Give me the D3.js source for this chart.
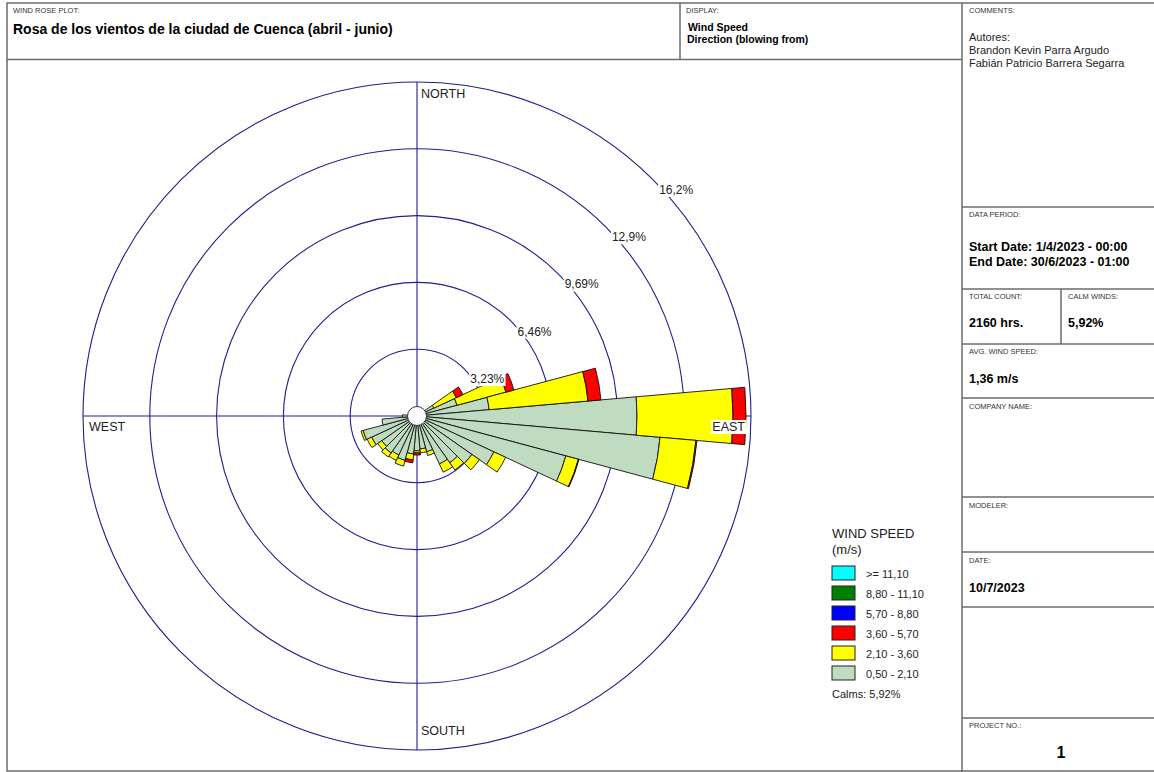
<!DOCTYPE html>
<html>
<head>
<meta charset="utf-8">
<script src="https://cdn.jsdelivr.net/npm/d3@7"></script>
<style>
  html, body { margin: 0; padding: 0; background: #fff; }
  svg { display: block; font-family: "Liberation Sans", Arial, sans-serif; }
</style>
</head>
<body>
<svg id="chart" width="1154" height="772"></svg>
<script>
// Direction sectors (degrees, blowing from), 10° wide
const bearings = d3.range(0, 360, 10);

// Frequency (%) per sector for each wind speed class
const spd050_210 = [0, 0, 0, 0, 0, 0.3, 0.9, 2.0, 3.5, 10.64, 11.8, 7.45,
                    4.1, 3.24, 2.76, 2.56, 1.79, 1.6, 1.69, 1.84, 2.22, 2.08, 2.18, 2.08,
                    2.42, 2.7, 1.7, 0.7, 0, 0, 0, 0, 0, 0, 0, 0];
const spd210_360 = [0, 0, 0, 0, 0, 0, 1.2, 2.45, 4.8, 4.64, 1.74, 0.63,
                    0.63, 0.44, 0.43, 0.44, 0.19, 0.19, 0.1, 0.29, 0.29, 0.29, 0.24, 0.24,
                    0.24, 0.1, 0, 0, 0, 0, 0, 0, 0, 0, 0, 0];
const spd360_570 = [0, 0, 0, 0, 0, 0, 0.35, 0.4, 0.63, 0.63, 0.05, 0.03,
                    0, 0, 0, 0, 0, 0, 0.1, 0.14, 0, 0, 0, 0,
                    0, 0, 0, 0, 0, 0, 0, 0, 0, 0, 0, 0];
const spd570_880 = new Array(36).fill(0);
const spd880_1110 = new Array(36).fill(0);
const spd1110 = new Array(36).fill(0);

// Speed classes, low to high
const classKeys = ["c1", "c2", "c3", "c4", "c5", "c6"];
const classLabels = ["0,50 - 2,10", "2,10 - 3,60", "3,60 - 5,70", "5,70 - 8,80", "8,80 - 11,10", ">= 11,10"];
const classColors = ["#c0dcc0", "#ffff00", "#ff0000", "#0000ff", "#008000", "#00ffff"];

// Rings
const ringValues = [3.23, 6.46, 9.69, 12.92, 16.15];
const ringLabels = ["3,23%", "6,46%", "9,69%", "12,9%", "16,2%"];

const calmText = "5,92%";

const svg = d3.select("#chart");
const cx = 417, cy = 416, outerR = 334;

// ---------- frame and side panels ----------
const frame = svg.append("g").attr("fill", "none").attr("stroke", "#6b6b6b").attr("stroke-width", 1.5);
frame.append("rect").attr("x", 7).attr("y", 3).attr("width", 1150).attr("height", 768);
frame.append("line").attr("x1", 7).attr("x2", 962).attr("y1", 59.5).attr("y2", 59.5);
frame.append("line").attr("x1", 680).attr("x2", 680).attr("y1", 3).attr("y2", 59.5);
frame.append("line").attr("x1", 962).attr("x2", 962).attr("y1", 3).attr("y2", 772);
[207, 289, 344, 398, 497, 552, 607, 718].forEach(y => {
  frame.append("line").attr("x1", 962).attr("x2", 1154).attr("y1", y).attr("y2", y);
});
frame.append("line").attr("x1", 1061).attr("x2", 1061).attr("y1", 289).attr("y2", 344);

function small(x, y, t) {
  svg.append("text").attr("x", x).attr("y", y).attr("font-size", 7.5).attr("fill", "#333").text(t);
}
function bold(x, y, t, size) {
  svg.append("text").attr("x", x).attr("y", y).attr("font-size", size).attr("font-weight", "bold")
    .attr("fill", "#000").text(t);
}
function plain(x, y, t, size) {
  svg.append("text").attr("x", x).attr("y", y).attr("font-size", size).attr("fill", "#222").text(t);
}

small(13, 13, "WIND ROSE PLOT:");
bold(13, 34, "Rosa de los vientos de la ciudad de Cuenca (abril - junio)", 14);
small(686, 13, "DISPLAY:");
bold(688, 31, "Wind Speed", 10.5);
bold(687, 43, "Direction (blowing from)", 10.5);

small(969, 13, "COMMENTS:");
plain(969, 41, "Autores:", 11);
plain(969, 54, "Brandon Kevin Parra Argudo", 11);
plain(969, 67, "Fabián Patricio Barrera Segarra", 11);

small(969, 217, "DATA PERIOD:");
bold(969, 251, "Start Date: 1/4/2023 - 00:00", 12.5);
bold(969, 266, "End Date: 30/6/2023 - 01:00", 12.5);

small(969, 299, "TOTAL COUNT:");
small(1068, 299, "CALM WINDS:");
bold(969, 327, "2160 hrs.", 12.5);
bold(1068, 327, calmText, 12.5);

small(969, 354, "AVG. WIND SPEED:");
bold(969, 383, "1,36 m/s", 12.5);

small(969, 409, "COMPANY NAME:");
small(969, 508, "MODELER:");
small(969, 563, "DATE:");
bold(969, 592, "10/7/2023", 12.5);
small(969, 728, "PROJECT NO.:");
svg.append("text").attr("x", 1061).attr("y", 758).attr("text-anchor", "middle")
  .attr("font-size", 16).attr("font-weight", "bold").text("1");

// ---------- polar grid ----------
const r = d3.scaleLinear().domain([0, d3.max(ringValues)]).range([0, outerR]);
const plot = svg.append("g").attr("transform", `translate(${cx},${cy})`);

plot.selectAll("circle.ring").data(ringValues).join("circle")
  .attr("class", "ring").attr("r", d => r(d))
  .attr("fill", "none").attr("stroke", "#1f1f8f").attr("stroke-width", 1.1);
plot.append("line").attr("x1", 0).attr("x2", 0).attr("y1", -outerR).attr("y2", outerR)
  .attr("stroke", "#1f1f8f").attr("stroke-width", 1.1);
plot.append("line").attr("x1", -outerR).attr("x2", outerR).attr("y1", 0).attr("y2", 0)
  .attr("stroke", "#1f1f8f").attr("stroke-width", 1.1);

// ---------- petals ----------
const rows = bearings.map((b, i) => ({
  bearing: b,
  c1: spd050_210[i], c2: spd210_360[i], c3: spd360_570[i],
  c4: spd570_880[i], c5: spd880_1110[i], c6: spd1110[i]
}));
const stacked = d3.stack().keys(classKeys)(rows);
const half = Math.PI / 36;
const arc = d3.arc()
  .innerRadius(d => r(d[0]))
  .outerRadius(d => r(d[1]))
  .startAngle(d => d.data.bearing * Math.PI / 180 - half)
  .endAngle(d => d.data.bearing * Math.PI / 180 + half);

stacked.forEach((layer, k) => {
  plot.append("g").selectAll("path")
    .data(layer.filter(d => d[1] - d[0] > 0))
    .join("path")
    .attr("d", arc)
    .attr("fill", classColors[k])
    .attr("stroke", "#111").attr("stroke-width", 0.9).attr("stroke-linejoin", "round");
});

// calm circle
plot.append("circle").attr("r", 9.5).attr("fill", "#fff").attr("stroke", "#333").attr("stroke-width", 1);

// ring labels along the 45° diagonal, on white
const diag = Math.PI / 4;
ringValues.forEach((v, i) => {
  const px = r(v) * Math.cos(diag) + 23, py = -r(v) * Math.sin(diag) + 10;
  const g = plot.append("g").attr("transform", `translate(${px},${py})`);
  const t = g.append("text").attr("text-anchor", "middle").attr("dy", "0.35em")
    .attr("font-size", 12).attr("fill", "#222").text(ringLabels[i]);
  const bb = t.node().getBBox();
  g.insert("rect", "text").attr("x", bb.x - 1).attr("y", bb.y).attr("width", bb.width + 2)
    .attr("height", bb.height).attr("fill", "#fff");
});

// compass labels
const compass = [
  { t: "NORTH", x: 4, y: -318, anchor: "start" },
  { t: "SOUTH", x: 4, y: 319, anchor: "start" },
  { t: "WEST", x: -328, y: 15, anchor: "start" },
  { t: "EAST", x: 328, y: 15, anchor: "end" }
];
compass.forEach(c => {
  const g = plot.append("g");
  const t = g.append("text").attr("x", c.x).attr("y", c.y).attr("text-anchor", c.anchor)
    .attr("font-size", 12.5).attr("fill", "#222").text(c.t);
  if (c.t === "EAST") {
    const bb = t.node().getBBox();
    g.insert("rect", "text").attr("x", bb.x - 1).attr("y", bb.y).attr("width", bb.width + 2)
      .attr("height", bb.height).attr("fill", "#fff");
  }
});

// ---------- legend ----------
const lg = svg.append("g").attr("transform", "translate(832,0)");
lg.append("text").attr("x", 0).attr("y", 538).attr("font-size", 13).attr("fill", "#222").text("WIND SPEED");
lg.append("text").attr("x", 0).attr("y", 554).attr("font-size", 13).attr("fill", "#222").text("(m/s)");
const order = d3.range(classKeys.length).reverse();
const ly = d3.scaleBand().domain(order).range([566, 686]);
order.forEach(k => {
  lg.append("rect").attr("x", 0).attr("y", ly(k)).attr("width", 23).attr("height", 14)
    .attr("fill", classColors[k]).attr("stroke", "#222").attr("stroke-width", 1);
  lg.append("text").attr("x", 34).attr("y", ly(k) + 11.5).attr("font-size", 11).attr("fill", "#222")
    .text(classLabels[k]);
});
lg.append("text").attr("x", 0).attr("y", 698).attr("font-size", 11).attr("fill", "#222")
  .text("Calms: " + calmText);
</script>
</body>
</html>
